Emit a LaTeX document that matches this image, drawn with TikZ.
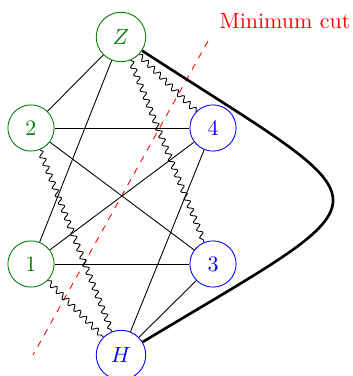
\documentclass[tikz,border=0pt]{standalone}
\usetikzlibrary{decorations.pathmorphing}
\begin{document}
\begin{tikzpicture}[x=0.4545pt,y=0.4545pt,
  gnode/.style={circle,draw=green!50!black,text=green!50!black,minimum size=21pt,inner sep=0pt},
  bnode/.style={circle,draw=blue,text=blue,minimum size=21pt,inner sep=0pt},
  bignode/.style={minimum size=22.5pt},
  wavy/.style={decorate,decoration={snake,amplitude=1.2pt,segment length=3.8pt}},
  heavy/.style={line width=1.2pt},
  cut/.style={red,dashed}]
\useasboundingbox (0,0) rectangle (352,-376);
\node[gnode,bignode] (Z) at (121,-37) {$Z$};
\node[gnode] (n2) at (31,-128) {2};
\node[bnode] (n4) at (213,-128) {4};
\node[gnode] (n1) at (31,-264) {1};
\node[bnode] (n3) at (213,-264) {3};
\node[bnode,bignode] (H) at (121,-355) {$H$};
\node[text=red] (lab) at (285,-21) {Minimum cut};
\coordinate (c1) at (208,-41);
\coordinate (c2) at (33,-355);
\draw[cut] (c1) -- (c2);
\draw (Z) -- (n2);
\draw (Z) -- (n1);
\draw (n2) -- (n4);
\draw (n2) -- (n3);
\draw (n1) -- (n4);
\draw (n1) -- (n3);
\draw (n4) -- (H);
\draw (n3) -- (H);
\draw[wavy] (Z) -- (n4);
\draw[wavy] (Z) -- (n3);
\draw[wavy] (n2) -- (H);
\draw[wavy] (n1) -- (H);
\draw[heavy] (Z) .. controls +(-33:325) and +(31:325) .. (H);
\end{tikzpicture}
\end{document}
